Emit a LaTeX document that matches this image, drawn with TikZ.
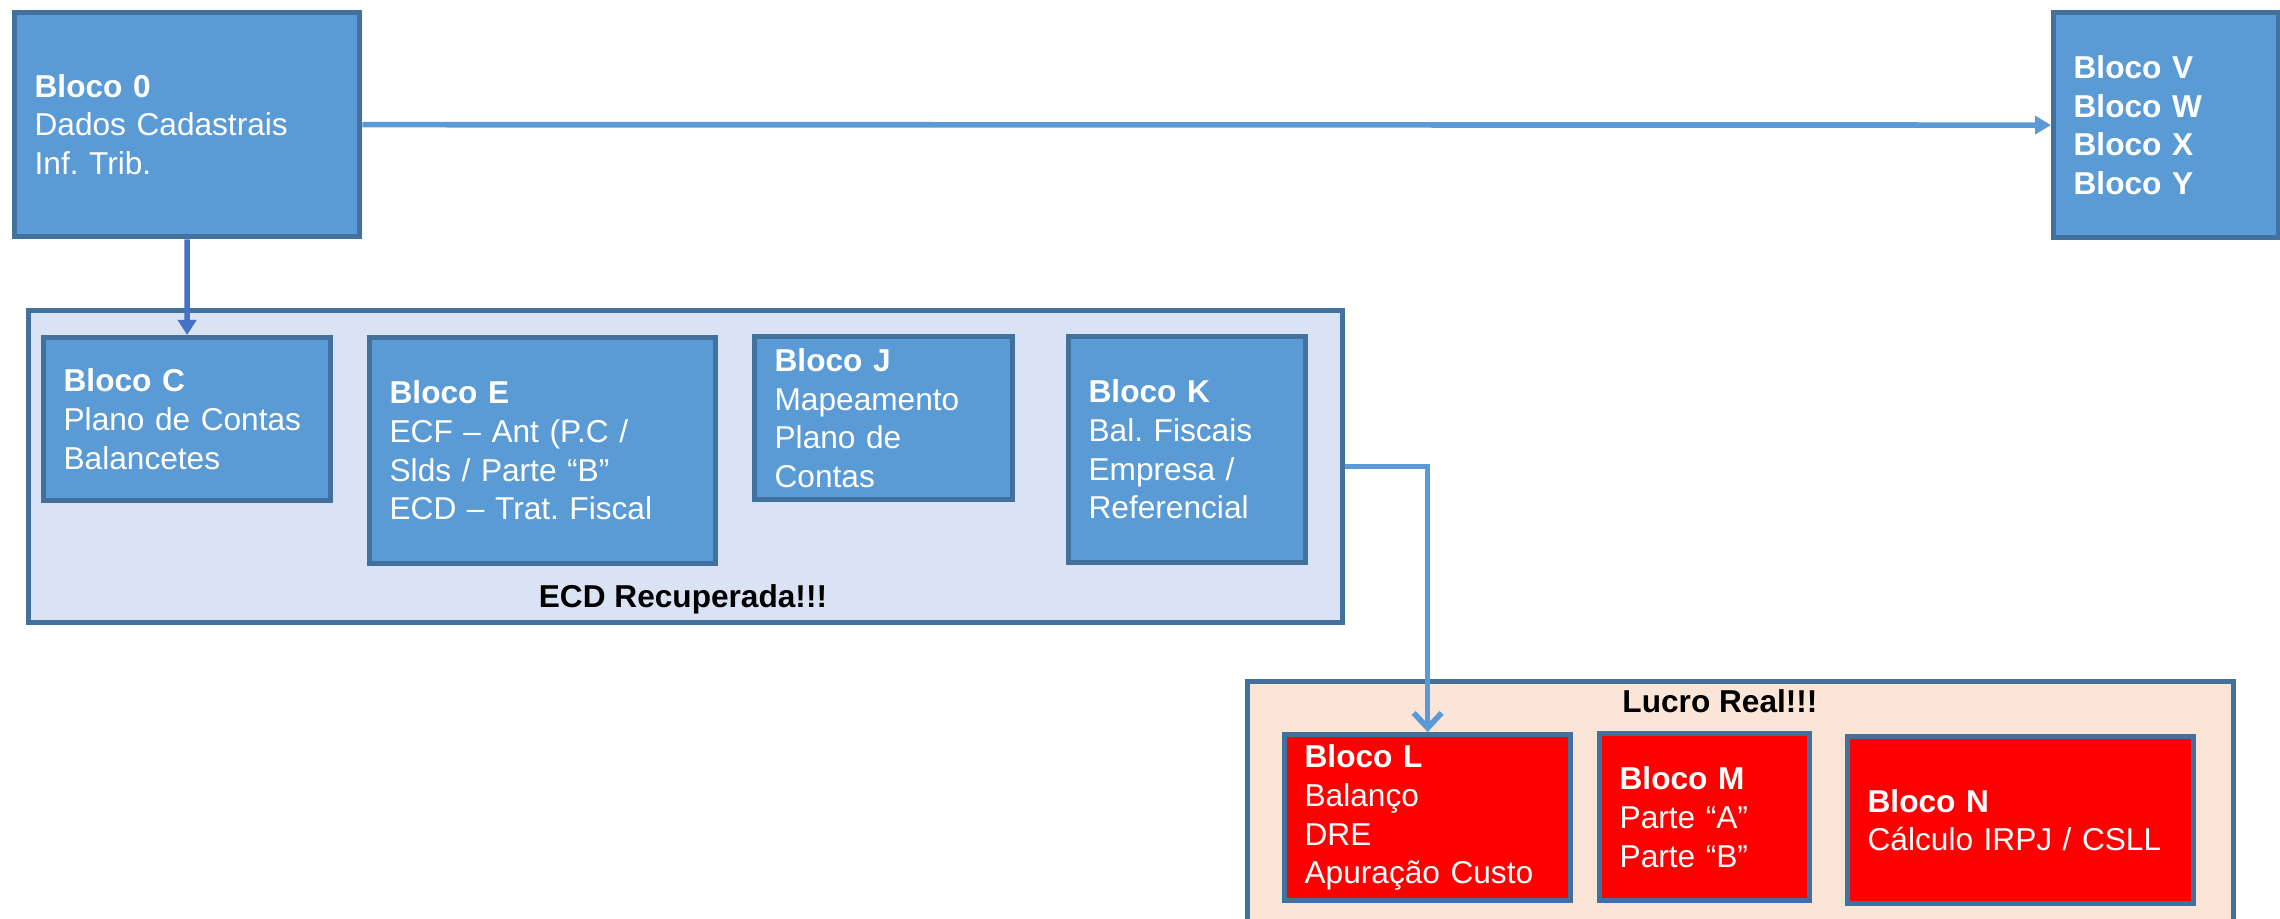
\documentclass[tikz,border=0pt]{standalone}
\usepackage{fontspec}
\setmainfont{Liberation Sans}
\usetikzlibrary{arrows.meta}

\definecolor{blocofill}{HTML}{5B9BD5}
\definecolor{blocoline}{HTML}{41719C}
\definecolor{ecdfill}{HTML}{DAE3F3}
\definecolor{lucrofill}{HTML}{FBE5D6}
\definecolor{setadown}{HTML}{4472C4}

\tikzset{
    bloco/.style={draw=blocoline, line width=1.5pt, fill=blocofill, text=white, anchor=north west,
        align=left, inner xsep=0.20cm, inner ysep=0pt, font=\fontsize{9}{11}\selectfont},
    blocored/.style={bloco, fill=red},
    grupo/.style={draw=blocoline, line width=1.5pt, anchor=north west, inner sep=0pt},
    titulo/.style={anchor=base, font=\fontsize{9}{11}\selectfont\bfseries},
    seta/.style={draw=blocofill, line width=1.6pt}
}

\begin{document}
\frenchspacing
\begin{tikzpicture}
        \useasboundingbox (0,0) rectangle (22.80,-9.19);
        \clip (0,0) rectangle (22.80,-9.19);

        \node[grupo, fill=ecdfill, minimum width=13.14cm, minimum height=3.12cm] (ecd) at (0.26,-3.08) {};
        \node[grupo, fill=lucrofill, minimum width=9.86cm, minimum height=2.60cm] (lucro) at (12.45,-6.79) {};

        \node[titulo] (ecdtit) at (6.83,-6.08) {ECD Recuperada!!!};
        \node[titulo] (lucrotit) at (17.20,-7.13) {Lucro Real!!!};

        \node[bloco, minimum width=3.45cm, minimum height=2.24cm, text width=3.05cm] (b0) at (0.12,-0.10) {\textbf{Bloco 0}\\Dados Cadastrais\\Inf. Trib.};
        \node[bloco, minimum width=2.25cm, minimum height=2.25cm, text width=1.85cm] (bv) at (20.51,-0.10) {\textbf{Bloco V}\\\textbf{Bloco W}\\\textbf{Bloco X}\\\textbf{Bloco Y}};

        \node[bloco, minimum width=2.87cm, minimum height=1.63cm, text width=2.47cm] (bc) at (0.41,-3.35) {\textbf{Bloco C}\\Plano de Contas\\Balancetes};
        \node[bloco, minimum width=3.46cm, minimum height=2.26cm, text width=3.06cm] (be) at (3.67,-3.35) {\textbf{Bloco E}\\ECF – Ant (P.C /\\Slds / Parte “B”\\ECD – Trat. Fiscal};
        \node[bloco, minimum width=2.58cm, minimum height=1.63cm, text width=2.18cm] (bj) at (7.52,-3.34) {\textbf{Bloco J}\\Mapeamento\\Plano de\\Contas};
        \node[bloco, minimum width=2.37cm, minimum height=2.26cm, text width=1.97cm] (bk) at (10.66,-3.34) {\textbf{Bloco K}\\Bal. Fiscais\\Empresa /\\Referencial};

        \node[blocored, minimum width=2.86cm, minimum height=1.66cm, text width=2.46cm] (bl) at (12.82,-7.32) {\textbf{Bloco L}\\Balanço\\DRE\\Apuração Custo};
        \node[blocored, minimum width=2.10cm, minimum height=1.67cm, text width=1.70cm] (bm) at (15.97,-7.31) {\textbf{Bloco M}\\Parte “A”\\Parte “B”};
        \node[blocored, minimum width=3.46cm, minimum height=1.67cm, text width=3.06cm] (bn) at (18.45,-7.34) {\textbf{Bloco N}\\Cálculo IRPJ / CSLL};

        % ligacoes
        \draw[seta, -{Triangle[length=0.16cm, width=0.18cm]}] (b0) -- (bv);
        \draw[seta, draw=setadown, -{Triangle[length=0.15cm, width=0.18cm]}] (b0.south) -- (bc.north);
        \draw[seta, -{Straight Barb[length=0.15cm, width=0.28cm]}] (ecd.east) -| (bl.north);

\end{tikzpicture}
\end{document}
